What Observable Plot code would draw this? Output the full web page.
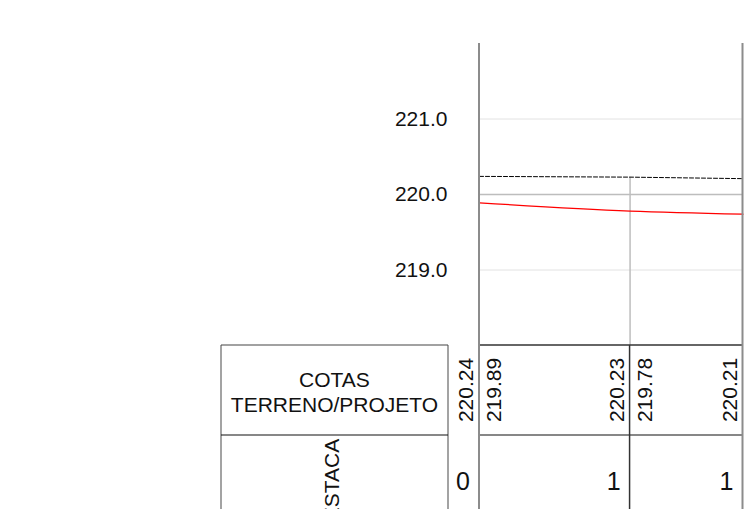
<!DOCTYPE html>
<html>
<head>
<meta charset="utf-8">
<script src="https://cdn.jsdelivr.net/npm/d3@7"></script>
<script src="https://cdn.jsdelivr.net/npm/@observablehq/plot@0.6"></script>
<style>
  html, body { margin: 0; padding: 0; background: #fff; }
  #chart svg { display: block; }
</style>
</head>
<body>
<div id="chart"></div>
<script>
// ---- data ----
const distances = [0, 20, 35];              // metres along the alignment
const stakeLabels = ["0", "1", "1"];        // ESTACA labels
const terreno = [220.24, 220.23, 220.21];   // terrain elevations (dashed)
const projeto = [219.89, 219.78, 219.74];   // design elevations (red)
const yTicks = [219, 220, 221];
const rowTitle = ["COTAS", "TERRENO/PROJETO"];
const stakeTitle = "ESTACA";

const rows = distances.map((d, i) => ({dist: d, stake: stakeLabels[i], terreno: terreno[i], projeto: projeto[i]}));

const font = "Liberation Sans, Arial, Helvetica, sans-serif";
const W = 746;

const plot = Plot.plot({
  width: W,
  height: 509,
  marginLeft: 479,
  marginRight: 3.5,
  marginTop: 43,
  marginBottom: 164,
  style: {background: "#fff", fontFamily: font, fontSize: "21px", color: "#111"},
  x: {domain: [0, 35], axis: null},
  y: {domain: [218, 222], axis: null},
  marks: [
    Plot.ruleY([219, 221], {stroke: "#e2e2e2", strokeWidth: 1}),
    Plot.ruleY([220], {stroke: "#bdbdbd", strokeWidth: 1.5}),
    Plot.ruleX(rows.filter((d, i) => i > 0 && i < rows.length - 1), {x: "dist", y1: "terreno", y2: 218, stroke: "#bdbdbd", strokeWidth: 1.5}),
    Plot.line(rows, {x: "dist", y: "terreno", stroke: "#000", strokeWidth: 1, strokeDasharray: "4,2"}),
    Plot.line(rows, {x: "dist", y: "projeto", stroke: "#ff0000", strokeWidth: 1.2, curve: "monotone-x"}),
    Plot.axisY(yTicks, {tickSize: 0, tickPadding: 32, tickFormat: d3.format(".1f"), fontSize: 21, fill: "#111"})
  ]
});

document.getElementById("chart").appendChild(plot);

// ---- table below the profile, positioned from the plot's x scale ----
const sx = plot.scale("x");
const X = d => sx.apply(d);
const svg = d3.select(plot);
const g = svg.append("g").attr("font-family", font).attr("fill", "#111");
const yTop = 345, yMid = 435, yBot = 509;
const x0 = X(distances[0]), xEnd = X(distances[distances.length - 1]);
const labelL = 221, labelR = 448;

// label box
g.append("line").attr("x1", labelL).attr("x2", labelL).attr("y1", yTop).attr("y2", yBot).attr("stroke", "#666").attr("stroke-width", 1.2);
g.append("line").attr("x1", labelR).attr("x2", labelR).attr("y1", yTop).attr("y2", yBot).attr("stroke", "#666").attr("stroke-width", 1.2);
g.append("line").attr("x1", labelL).attr("x2", labelR).attr("y1", yTop).attr("y2", yTop).attr("stroke", "#444").attr("stroke-width", 1.2);
g.append("line").attr("x1", labelL).attr("x2", labelR).attr("y1", yMid).attr("y2", yMid).attr("stroke", "#111").attr("stroke-width", 1.2);

// data area horizontals
g.append("line").attr("x1", x0).attr("x2", xEnd).attr("y1", yTop).attr("y2", yTop).attr("stroke", "#333").attr("stroke-width", 1.5);
g.append("line").attr("x1", x0).attr("x2", xEnd).attr("y1", yMid).attr("y2", yMid).attr("stroke", "#111").attr("stroke-width", 1.2);

// stake verticals inside the table
rows.slice(1, -1).forEach(d => {
  g.append("line").attr("x1", X(d.dist)).attr("x2", X(d.dist)).attr("y1", yTop).attr("y2", yBot).attr("stroke", "#333").attr("stroke-width", 1.5);
});

// frame lines: left axis and right edge
[x0, xEnd].forEach(x => {
  g.append("line").attr("x1", x).attr("x2", x).attr("y1", 43).attr("y2", yBot).attr("stroke", "#8c8c8c").attr("stroke-width", 2);
});

// row titles
g.append("text").attr("x", (labelL + labelR) / 2).attr("y", 387).attr("text-anchor", "middle").attr("font-size", 21).text(rowTitle[0]);
g.append("text").attr("x", (labelL + labelR) / 2).attr("y", 412).attr("text-anchor", "middle").attr("font-size", 21).text(rowTitle[1]);
g.append("text").attr("transform", `translate(${(labelL + labelR) / 2 + 4},${480}) rotate(-90)`).attr("text-anchor", "middle").attr("font-size", 21).text(stakeTitle);

// elevations (rotated) and stake labels
rows.forEach(d => {
  const x = X(d.dist);
  g.append("text").attr("transform", `translate(${x - 6},${390}) rotate(-90)`).attr("text-anchor", "middle").attr("font-size", 21).text(d.terreno.toFixed(2));
  if (x + 22 < W) {
    g.append("text").attr("transform", `translate(${x + 22},${390}) rotate(-90)`).attr("text-anchor", "middle").attr("font-size", 21).text(d.projeto.toFixed(2));
  }
  g.append("text").attr("x", x - 9).attr("y", 490).attr("text-anchor", "end").attr("font-size", 25).text(d.stake);
});
</script>
</body>
</html>
